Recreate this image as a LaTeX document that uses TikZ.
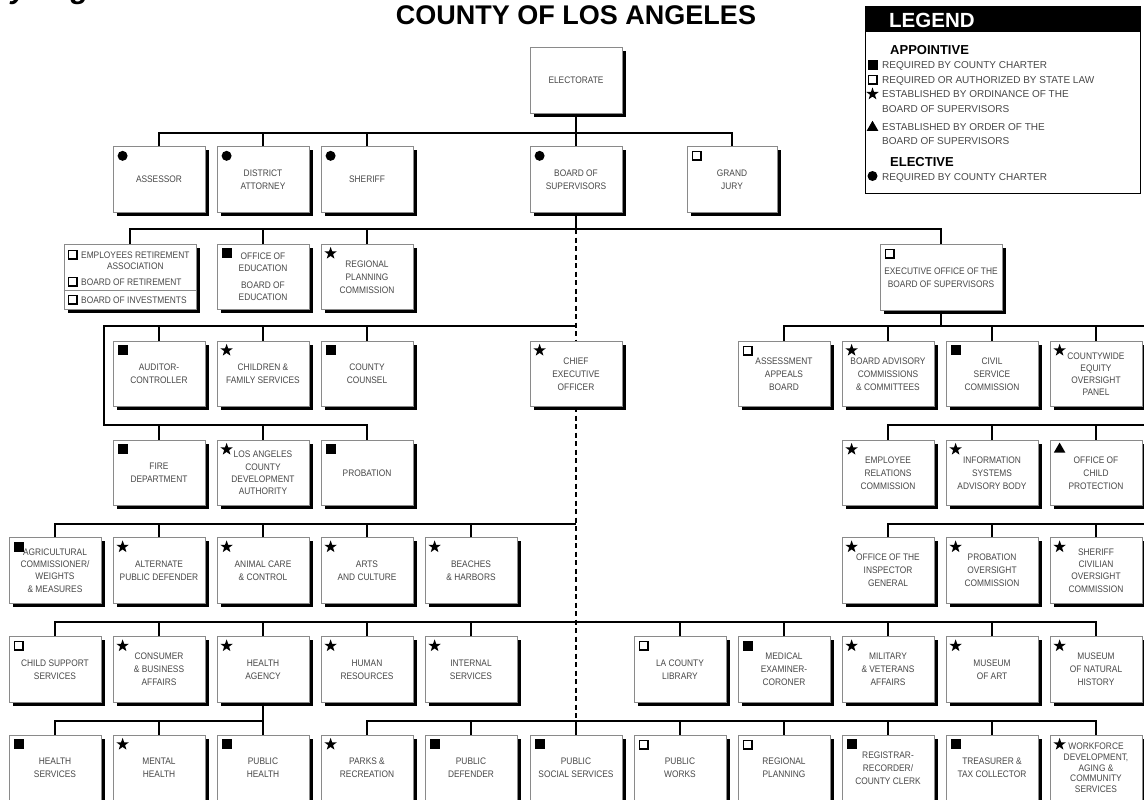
\documentclass[tikz,border=0pt]{standalone}
\usepackage{fontspec}
\setmainfont{Liberation Sans}
\newfontfamily\boxfont{Liberation Sans}[FakeStretch=0.88]
\usetikzlibrary{shadows,shapes.geometric,calc}
\definecolor{txt}{HTML}{484848}
\definecolor{bord}{HTML}{8A8A8A}
\tikzset{
  unit/.style={draw=bord, line width=0.8pt, fill=white,
    drop shadow={shadow xshift=3.5pt, shadow yshift=-3.5pt, fill=black, opacity=1},
    minimum width=92pt, minimum height=65.5pt, inner sep=1pt, align=center, text=txt,
    font=\boxfont\fontsize{9.5}{13}\selectfont},
  lfour/.style={font=\boxfont\fontsize{9.5}{12.2}\selectfont},
  lfive/.style={font=\boxfont\fontsize{9.5}{10.7}\selectfont},
  etxt/.style={inner sep=0pt, text=txt, align=center, font=\boxfont\fontsize{9.5}{11}\selectfont},
  legtxt/.style={anchor=base west, inner sep=0pt, text=txt, font=\fontsize{10}{10}\selectfont},
  leghead/.style={anchor=base west, inner sep=0pt, font=\bfseries\fontsize{13}{13}\selectfont},
  conn/.style={line width=1.7pt, black},
  trunk/.style={line width=1.9pt, black, dash pattern=on 5pt off 3.5pt},
  mstar/.style={star, star points=5, star point ratio=2.5, fill=black, inner sep=0pt, minimum size=13pt},
  mtri/.style={regular polygon, regular polygon sides=3, fill=black, inner sep=0pt, minimum size=13.5pt},
}
\newcommand\mkcirc[1]{\fill (#1) circle (5pt);}
\newcommand\mksq[1]{\fill ([shift={(-5pt,5pt)}]#1) rectangle ([shift={(5pt,-5pt)}]#1);}
\newcommand\mkhol[1]{\fill ([shift={(-4.8pt,4.8pt)}]#1) rectangle ([shift={(5.3pt,-5.3pt)}]#1);
  \fill[white] ([shift={(-3.6pt,3.6pt)}]#1) rectangle ([shift={(3.2pt,-3.2pt)}]#1);}
\newcommand\mkstar[1]{\node[mstar] (#1s) at (#1) {};}
\newcommand\mktri[1]{\node[mtri] (#1t) at (#1) {};}
\newcommand\mkr[2]{\coordinate (#1-m) at ([shift={(10pt,-9.5pt)}]#1.north west); \csname mk#2\endcsname{#1-m}}
\newcommand\drop[2]{\draw[conn] (#1.north) -- (#1.north |- #2);}

\begin{document}
\begin{tikzpicture}[x=1pt,y=-1pt]
\fill[white] (0,0) rectangle (1144,800);
\useasboundingbox (0,0) rectangle (1144,800);

% cropped heading fragment
\begin{scope}
\clip (0,0) rectangle (300,30);
\node[anchor=base west, inner sep=0pt, font=\bfseries\itshape\fontsize{30}{30}\selectfont] (frag) at (-76,-1) {County Organization Chart};
\end{scope}

\node[inner sep=0pt, font=\bfseries\fontsize{27}{27}\selectfont] (title) at (576,15) {COUNTY OF LOS ANGELES};

% legend
\node[draw=black, line width=1.2pt, minimum width=275pt, minimum height=187pt, anchor=north west, inner sep=0pt] (legend) at (865,6) {};
\fill (legend.north west) rectangle ([yshift=-26pt]legend.north east);
\node[anchor=base west, inner sep=0pt, text=white, font=\bfseries\fontsize{20.5}{20}\selectfont] (legtitle) at (889,27.5) {LEGEND};
\node[leghead] (appt) at (890,55) {APPOINTIVE};
\node[legtxt] (lt1) at (882,69) {REQUIRED BY COUNTY CHARTER};
\node[legtxt] (lt2) at (882,84) {REQUIRED OR AUTHORIZED BY STATE LAW};
\node[legtxt] (lt3) at (882,98) {ESTABLISHED BY ORDINANCE OF THE};
\node[legtxt] (lt4) at (882,112) {BOARD OF SUPERVISORS};
\node[legtxt] (lt5) at (882,131) {ESTABLISHED BY ORDER OF THE};
\node[legtxt] (lt6) at (882,144.5) {BOARD OF SUPERVISORS};
\node[leghead] (elec) at (890,166.5) {ELECTIVE};
\node[legtxt] (lt7) at (882,180) {REQUIRED BY COUNTY CHARTER};
\coordinate (lg1) at (872.5,65); \mksq{lg1}
\coordinate (lg2) at (872.5,80); \mkhol{lg2}
\coordinate (lg3) at (872.5,94); \mkstar{lg3}
\coordinate (lg4) at (872.5,127.5); \mktri{lg4}
\coordinate (lg5) at (872.5,176); \mkcirc{lg5}

% bus levels
\coordinate (yA) at (0,133);
\coordinate (yB) at (0,229);
\coordinate (yC) at (0,326);
\coordinate (yD) at (0,425);
\coordinate (yE) at (0,524);
\coordinate (yF) at (0,622);
\coordinate (yG) at (0,721);
\coordinate (lb) at (104,326);
\coordinate (rb) at (1152,0);

% row 0 / A
\node[unit] (electorate) at (576,80.5) {ELECTORATE};
\node[unit] (assessor) at (159,179.5) {ASSESSOR}; \mkr{assessor}{circ}
\node[unit] (da) at (263,179.5) {DISTRICT\\ATTORNEY}; \mkr{da}{circ}
\node[unit] (sheriff) at (367,179.5) {SHERIFF}; \mkr{sheriff}{circ}
\node[unit] (bos) at (576,179.5) {BOARD OF\\SUPERVISORS}; \mkr{bos}{circ}
\node[unit, minimum width=90pt] (grandjury) at (732,179.5) {GRAND\\JURY}; \mkr{grandjury}{hol}

% row B
\node[unit, minimum width=132pt] (era) at (130,277) {};
\draw[bord, line width=0.8pt] ([yshift=-13pt]era.west) -- ([yshift=-13pt]era.east);
\node[etxt, anchor=west] (era1) at (81,260.5) {EMPLOYEES RETIREMENT\\ASSOCIATION};
\node[etxt, anchor=west] (era2) at (81,282) {BOARD OF RETIREMENT};
\node[etxt, anchor=west] (era3) at (81,300) {BOARD OF INVESTMENTS};
\coordinate (eram1) at (73,255); \mkhol{eram1}
\coordinate (eram2) at (73,282); \mkhol{eram2}
\coordinate (eram3) at (73,300); \mkhol{eram3}
\node[unit, font=\boxfont\fontsize{9.5}{12}\selectfont] (oed) at (263,277) {OFFICE OF\\EDUCATION\\[5pt]BOARD OF\\EDUCATION}; \mkr{oed}{sq}
\node[unit] (rpc) at (367,277) {REGIONAL\\PLANNING\\COMMISSION}; \mkr{rpc}{star}
\node[unit, minimum width=122pt] (exec) at (941,277.5) {EXECUTIVE OFFICE OF THE\\BOARD OF SUPERVISORS}; \mkr{exec}{hol}

% row C
\node[unit] (auditor) at (159,374) {AUDITOR-\\CONTROLLER}; \mkr{auditor}{sq}
\node[unit] (dcfs) at (263,374) {CHILDREN \&\\FAMILY SERVICES}; \mkr{dcfs}{star}
\node[unit] (counsel) at (367,374) {COUNTY\\COUNSEL}; \mkr{counsel}{sq}
\node[unit] (ceo) at (576,374) {CHIEF\\EXECUTIVE\\OFFICER}; \mkr{ceo}{star}
\node[unit] (aab) at (784,374) {ASSESSMENT\\APPEALS\\BOARD}; \mkr{aab}{hol}
\node[unit] (bac) at (888,374) {BOARD ADVISORY\\COMMISSIONS\\\& COMMITTEES}; \mkr{bac}{star}
\node[unit] (civil) at (992,374) {CIVIL\\SERVICE\\COMMISSION}; \mkr{civil}{sq}
\node[unit, lfour] (equity) at (1096,374) {COUNTYWIDE\\EQUITY\\OVERSIGHT\\PANEL}; \mkr{equity}{star}

% row D
\node[unit] (fire) at (159,473) {FIRE\\DEPARTMENT}; \mkr{fire}{sq}
\node[unit, lfour] (lacda) at (263,473) {LOS ANGELES\\COUNTY\\DEVELOPMENT\\AUTHORITY}; \mkr{lacda}{star}
\node[unit] (probation) at (367,473) {PROBATION}; \mkr{probation}{sq}
\node[unit] (erc) at (888,473) {EMPLOYEE\\RELATIONS\\COMMISSION}; \mkr{erc}{star}
\node[unit] (isab) at (992,473) {INFORMATION\\SYSTEMS\\ADVISORY BODY}; \mkr{isab}{star}
\node[unit] (ocp) at (1096,473) {OFFICE OF\\CHILD\\PROTECTION}; \mkr{ocp}{tri}

% row E
\node[unit, lfour] (agri) at (55,570.5) {AGRICULTURAL\\COMMISSIONER/\\WEIGHTS\\\& MEASURES}; \mkr{agri}{sq}
\node[unit] (apd) at (159,570.5) {ALTERNATE\\PUBLIC DEFENDER}; \mkr{apd}{star}
\node[unit] (animal) at (263,570.5) {ANIMAL CARE\\\& CONTROL}; \mkr{animal}{star}
\node[unit] (arts) at (367,570.5) {ARTS\\AND CULTURE}; \mkr{arts}{star}
\node[unit] (beaches) at (471,570.5) {BEACHES\\\& HARBORS}; \mkr{beaches}{star}
\node[unit] (oig) at (888,570.5) {OFFICE OF THE\\INSPECTOR\\GENERAL}; \mkr{oig}{star}
\node[unit] (poc) at (992,570.5) {PROBATION\\OVERSIGHT\\COMMISSION}; \mkr{poc}{star}
\node[unit, lfour] (scoc) at (1096,570.5) {SHERIFF\\CIVILIAN\\OVERSIGHT\\COMMISSION}; \mkr{scoc}{star}

% row F
\node[unit] (childsupport) at (55,669.5) {CHILD SUPPORT\\SERVICES}; \mkr{childsupport}{hol}
\node[unit] (consumer) at (159,669.5) {CONSUMER\\\& BUSINESS\\AFFAIRS}; \mkr{consumer}{star}
\node[unit] (health) at (263,669.5) {HEALTH\\AGENCY}; \mkr{health}{star}
\node[unit] (hr) at (367,669.5) {HUMAN\\RESOURCES}; \mkr{hr}{star}
\node[unit] (isd) at (471,669.5) {INTERNAL\\SERVICES}; \mkr{isd}{star}
\node[unit] (library) at (680,669.5) {LA COUNTY\\LIBRARY}; \mkr{library}{hol}
\node[unit] (coroner) at (784,669.5) {MEDICAL\\EXAMINER-\\CORONER}; \mkr{coroner}{sq}
\node[unit] (military) at (888,669.5) {MILITARY\\\& VETERANS\\AFFAIRS}; \mkr{military}{star}
\node[unit] (lacma) at (992,669.5) {MUSEUM\\OF ART}; \mkr{lacma}{star}
\node[unit] (nhm) at (1096,669.5) {MUSEUM\\OF NATURAL\\HISTORY}; \mkr{nhm}{star}

% row G
\node[unit] (dhs) at (55,768) {HEALTH\\SERVICES}; \mkr{dhs}{sq}
\node[unit] (dmh) at (159,768) {MENTAL\\HEALTH}; \mkr{dmh}{star}
\node[unit] (dph) at (263,768) {PUBLIC\\HEALTH}; \mkr{dph}{sq}
\node[unit] (parks) at (367,768) {PARKS \&\\RECREATION}; \mkr{parks}{star}
\node[unit] (pd) at (471,768) {PUBLIC\\DEFENDER}; \mkr{pd}{sq}
\node[unit] (dpss) at (576,768) {PUBLIC\\SOCIAL SERVICES}; \mkr{dpss}{sq}
\node[unit] (dpw) at (680,768) {PUBLIC\\WORKS}; \mkr{dpw}{hol}
\node[unit] (drp) at (784,768) {REGIONAL\\PLANNING}; \mkr{drp}{hol}
\node[unit] (rrcc) at (888,768) {REGISTRAR-\\RECORDER/\\COUNTY CLERK}; \mkr{rrcc}{sq}
\node[unit] (ttc) at (992,768) {TREASURER \&\\TAX COLLECTOR}; \mkr{ttc}{sq}
\node[unit, lfive] (wdacs) at (1096,768) {WORKFORCE\\DEVELOPMENT,\\AGING \&\\COMMUNITY\\SERVICES}; \mkr{wdacs}{star}

% connectors
\draw[conn] (electorate.south) -- (bos.north);
\draw[conn] (assessor.north) -- (assessor.north |- yA) -| (grandjury.north);
\drop{da}{yA} \drop{sheriff}{yA}

\draw[conn] (bos.south) -- (bos.south |- yB);
\draw[conn] (era.north) -- (era.north |- yB) -| (exec.north);
\drop{oed}{yB} \drop{rpc}{yB}

\draw[trunk] (bos.south |- yB) -- (ceo.north);
\draw[trunk] (ceo.south) -- (dpss.north |- yG);

\draw[conn] (ceo.north |- yC) -- (lb) -- (lb |- yD) -| (probation.north);
\drop{auditor}{yC} \drop{dcfs}{yC} \drop{counsel}{yC}
\drop{fire}{yD} \drop{lacda}{yD}

\draw[conn] (exec.south) -- (exec.south |- yC);
\draw[conn] (aab.north) -- (aab.north |- yC) -- (rb |- yC);
\drop{bac}{yC} \drop{civil}{yC} \drop{equity}{yC}
\draw[conn] (erc.north) -- (erc.north |- yD) -- (rb |- yD);
\drop{isab}{yD} \drop{ocp}{yD}
\draw[conn] (oig.north) -- (oig.north |- yE) -- (rb |- yE);
\drop{poc}{yE} \drop{scoc}{yE}

\draw[conn] (agri.north) -- (agri.north |- yE) -- (ceo.south |- yE);
\drop{apd}{yE} \drop{animal}{yE} \drop{arts}{yE} \drop{beaches}{yE}

\draw[conn] (childsupport.north) -- (childsupport.north |- yF) -| (nhm.north);
\drop{consumer}{yF} \drop{health}{yF} \drop{hr}{yF} \drop{isd}{yF}
\drop{library}{yF} \drop{coroner}{yF} \drop{military}{yF} \drop{lacma}{yF}

\draw[conn] (health.south) -- (dph.north);
\draw[conn] (dhs.north) -- (dhs.north |- yG) -- (dph.north |- yG);
\drop{dmh}{yG}
\draw[conn] (parks.north) -- (parks.north |- yG) -| (wdacs.north);
\drop{pd}{yG} \drop{dpss}{yG} \drop{dpw}{yG} \drop{drp}{yG} \drop{rrcc}{yG} \drop{ttc}{yG}
\end{tikzpicture}
\end{document}
